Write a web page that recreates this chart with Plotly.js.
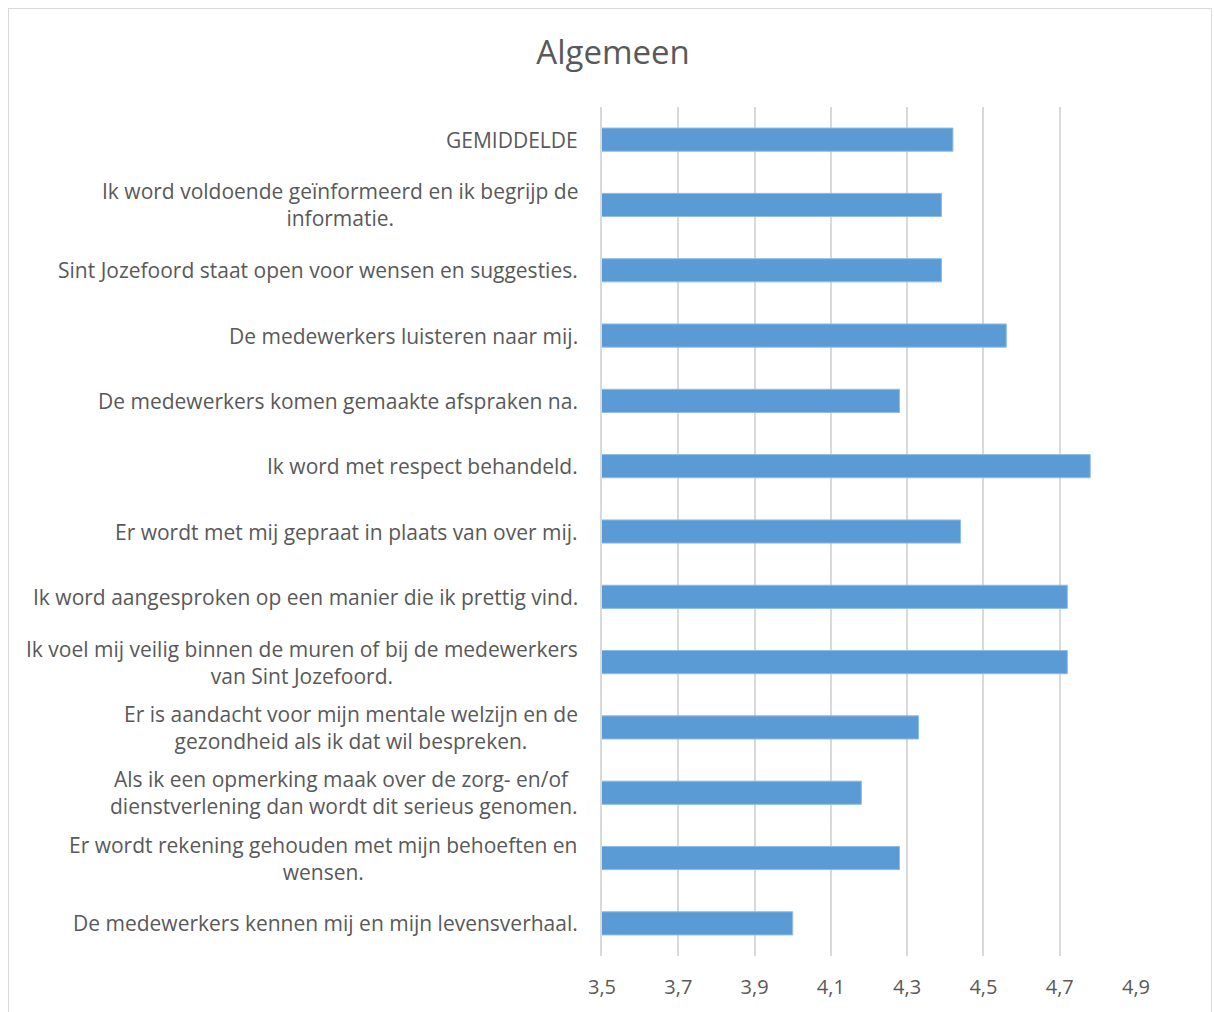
<!DOCTYPE html>
<html>
<head>
<meta charset="utf-8">
<script src="https://cdn.plot.ly/plotly-3.0.1.min.js"></script>
<style>
  html, body { margin: 0; padding: 0; background: #ffffff; }
  #frame { position: absolute; left: 8px; top: 8px; width: 1204px; height: 1010px; border: 1px solid #d9d9d9; box-sizing: border-box; }
  #chart { position: absolute; left: 0; top: 0; width: 1214px; height: 1012px; }
</style>
</head>
<body>
<div id="frame"></div>
<div id="chart"></div>
<script>
const categories = [
  "GEMIDDELDE",
  "Ik word voldoende geïnformeerd en ik begrijp de<br>informatie.",
  "Sint Jozefoord staat open voor wensen en suggesties.",
  "De medewerkers luisteren naar mij.",
  "De medewerkers komen gemaakte afspraken na.",
  "Ik word met respect behandeld.",
  "Er wordt met mij gepraat in plaats van over mij.",
  "Ik word aangesproken op een manier die ik prettig vind.",
  "Ik voel mij veilig binnen de muren of bij de medewerkers<br>van Sint Jozefoord.",
  "Er is aandacht voor mijn mentale welzijn en de<br>gezondheid als ik dat wil bespreken.",
  "Als ik een opmerking maak over de zorg- en/of <br>dienstverlening dan wordt dit serieus genomen.",
  "Er wordt rekening gehouden met mijn behoeften en<br>wensen.",
  "De medewerkers kennen mij en mijn levensverhaal."
];
const scores = [4.42, 4.39, 4.39, 4.56, 4.28, 4.78, 4.44, 4.72, 4.72, 4.33, 4.18, 4.28, 4.00];
const tickValues = [3.5, 3.7, 3.9, 4.1, 4.3, 4.5, 4.7, 4.9];
const chartTitle = "Algemeen";

const textColor = "#595959";
const fontFamily = "'Open Sans', 'Noto Sans', sans-serif";

const trace = {
  type: "bar",
  orientation: "h",
  x: scores,
  y: categories,
  marker: { color: "#5b9bd5", line: { color: "#8fbce6", width: 1 } },
  hoverinfo: "x+y",
  showlegend: false
};

const annotations = categories.map(c => ({
  xref: "paper", yref: "y",
  x: 0, y: c,
  xanchor: "right", yanchor: "middle",
  xshift: -22,
  align: "center",
  showarrow: false,
  text: c,
  font: { family: fontFamily, size: 21, color: textColor }
}));

const layout = {
  width: 1214, height: 1012,
  margin: { l: 602, r: 78, t: 107, b: 56 },
  paper_bgcolor: "rgba(0,0,0,0)",
  plot_bgcolor: "rgba(0,0,0,0)",
  separators: ",.",
  title: {
    text: chartTitle,
    font: { family: fontFamily, size: 33, color: textColor },
    x: 0.505, xanchor: "center",
    y: 0.948, yanchor: "middle"
  },
  bargap: 0.645,
  xaxis: {
    range: [3.5, 4.9],
    tickvals: tickValues,
    tickformat: ".1f",
    showgrid: true,
    gridcolor: "#d9d9d9",
    gridwidth: 2,
    zeroline: false,
    showline: false,
    ticks: "",
    ticklabelstandoff: 17,
    tickfont: { family: fontFamily, size: 20, color: textColor },
    fixedrange: true
  },
  yaxis: {
    type: "category",
    autorange: "reversed",
    showticklabels: false,
    showgrid: false,
    zeroline: false,
    showline: true,
    linecolor: "#d9d9d9",
    linewidth: 2,
    ticks: "",
    fixedrange: true
  },
  annotations: annotations
};

Plotly.newPlot("chart", [trace], layout, { displayModeBar: false, staticPlot: true });
</script>
</body>
</html>
